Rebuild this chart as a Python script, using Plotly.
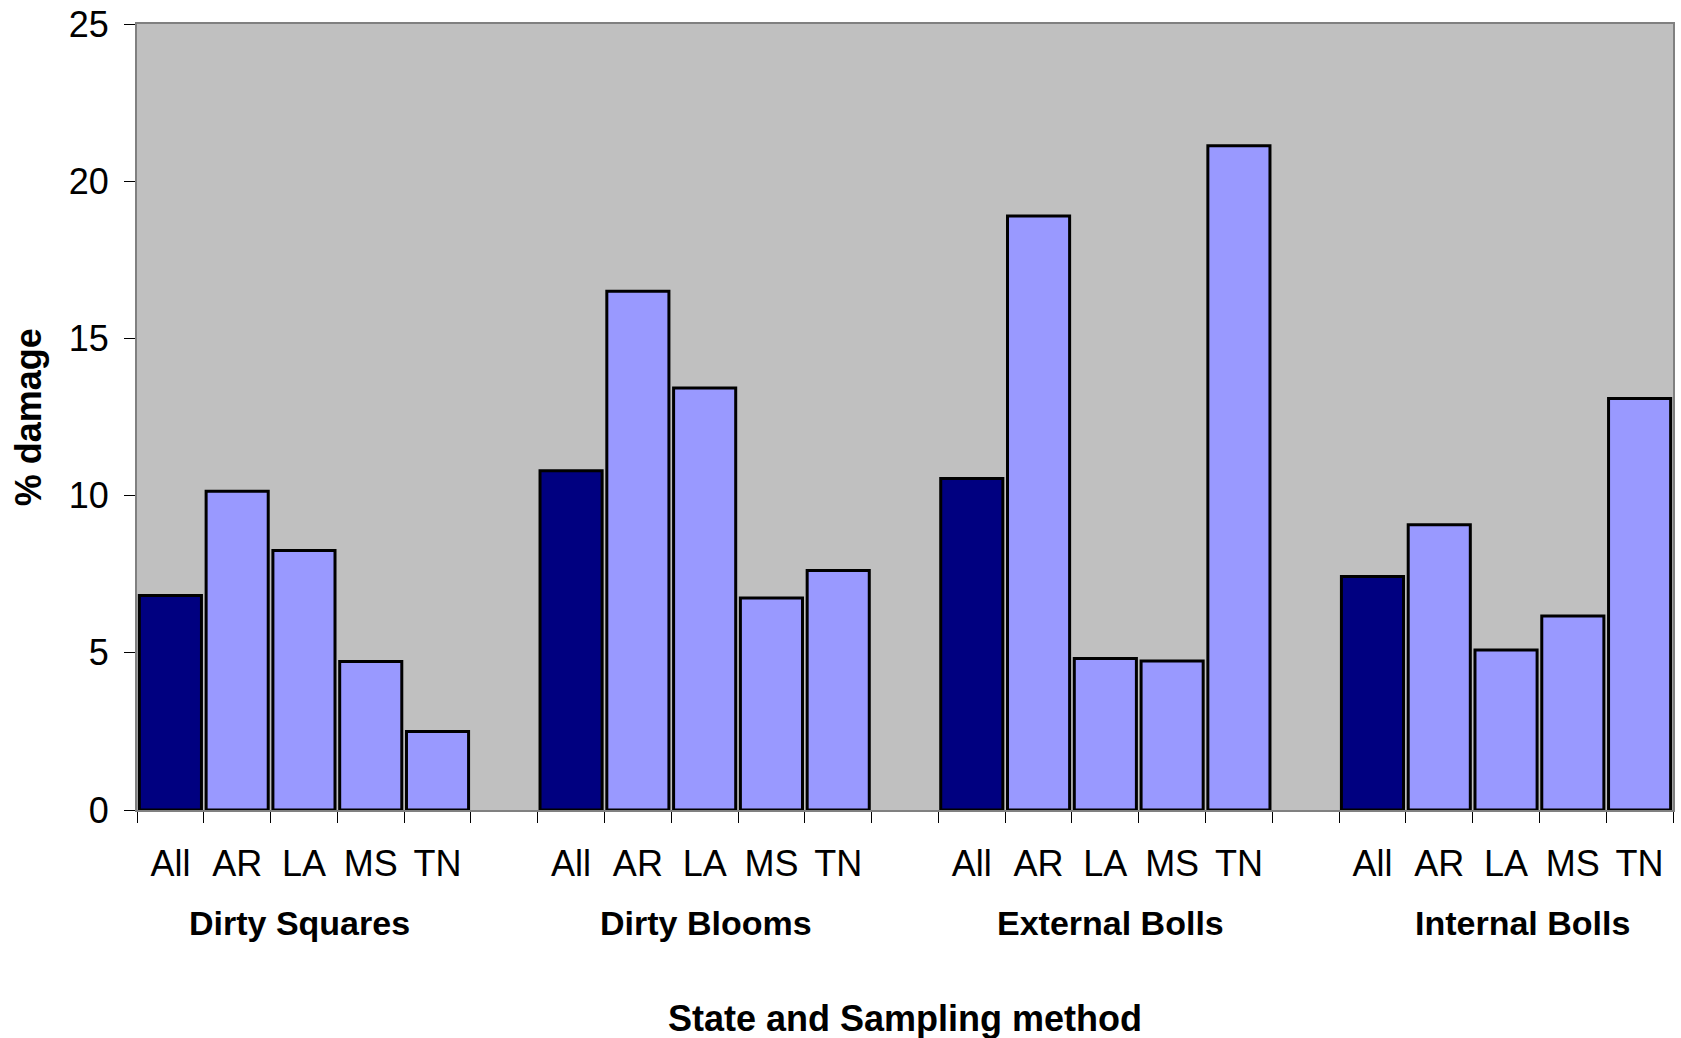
import plotly.graph_objects as go

# Sampling groups and the states within each group
groups = ["Dirty Squares", "Dirty Blooms", "External Bolls", "Internal Bolls"]
states = ["All", "AR", "LA", "MS", "TN"]

# % damage per state, one list per group
dirty_squares = [6.82, 10.14, 8.25, 4.72, 2.50]
dirty_blooms = [10.79, 16.50, 13.42, 6.74, 7.62]
external_bolls = [10.54, 18.89, 4.82, 4.74, 21.13]
internal_bolls = [7.43, 9.07, 5.09, 6.17, 13.09]

y_ticks = [0, 5, 10, 15, 20, 25]

series = [dirty_squares, dirty_blooms, external_bolls, internal_bolls]

# Each group occupies 5 slots followed by one empty slot
SLOT = len(states) + 1
xs, ys, colors, labels = [], [], [], []
for g, vals in enumerate(series):
    for i, v in enumerate(vals):
        xs.append(g * SLOT + i)
        ys.append(v)
        colors.append("#000080" if states[i] == "All" else "#9999FF")
        labels.append(states[i])

n_slots = len(groups) * SLOT - 1
boundaries = [k - 0.5 for k in range(n_slots + 1)]

# small horizontal nudges (in slot units) for the group captions
group_label_shift = [-0.07, 0.02, 0.08, 0.25]

FONT = "Liberation Sans, Arial, sans-serif"

fig = go.Figure(
    go.Bar(
        x=xs,
        y=ys,
        width=0.93,
        marker=dict(color=colors, line=dict(color="#000000", width=3)),
        hoverinfo="x+y",
    )
)

fig.update_layout(
    width=1681,
    height=1038,
    margin=dict(l=137, r=8, t=24, b=228, autoexpand=False),
    paper_bgcolor="#FFFFFF",
    plot_bgcolor="#C0C0C0",
    showlegend=False,
    font=dict(family=FONT, color="#000000", size=36),
)

fig.update_xaxes(
    range=[-0.5, n_slots - 0.5],
    automargin=False,
    tickmode="array",
    tickvals=xs,
    ticktext=labels,
    ticks="",
    ticklabelstandoff=21,
    tickfont=dict(size=36, family=FONT),
    showgrid=False,
    zeroline=False,
    showline=True,
    linecolor="#808080",
    linewidth=2,
    mirror=True,
    minor=dict(
        tickmode="array",
        tickvals=boundaries,
        ticks="outside",
        ticklen=11,
        tickwidth=1,
        tickcolor="#000000",
        showgrid=False,
    ),
)

fig.update_yaxes(
    range=[0, 25],
    automargin=False,
    tickmode="array",
    tickvals=y_ticks,
    ticks="outside",
    ticklen=11,
    tickwidth=1,
    tickcolor="#000000",
    ticklabelstandoff=8,
    tickfont=dict(size=36, family=FONT),
    showgrid=False,
    zeroline=False,
    showline=True,
    linecolor="#808080",
    linewidth=2,
    mirror=True,
)

annotations = []
for g, name in enumerate(groups):
    annotations.append(
        dict(
            x=g * SLOT + (len(states) - 1) / 2 + group_label_shift[g],
            xref="x",
            y=-0.1444,
            yref="paper",
            text=f"<b>{name}</b>",
            showarrow=False,
            xanchor="center",
            yanchor="middle",
            font=dict(size=34, family=FONT),
        )
    )

annotations.append(
    dict(
        x=0.5,
        xref="paper",
        y=-0.2655,
        yref="paper",
        text="<b>State and Sampling method</b>",
        showarrow=False,
        xanchor="center",
        yanchor="middle",
        font=dict(size=36, family=FONT),
    )
)
annotations.append(
    dict(
        x=-0.0708,
        xref="paper",
        y=0.5,
        yref="paper",
        text="<b>% damage</b>",
        textangle=-90,
        showarrow=False,
        xanchor="center",
        yanchor="middle",
        font=dict(size=36, family=FONT),
    )
)
fig.update_layout(annotations=annotations)

fig.write_html("out.html")
